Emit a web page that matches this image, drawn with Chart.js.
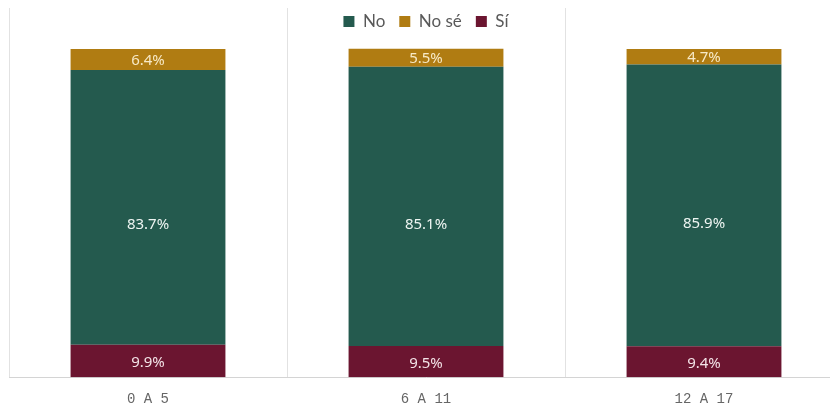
<!DOCTYPE html>
<html>
<head>
<meta charset="utf-8">
<script src="https://cdn.jsdelivr.net/npm/chart.js@4/dist/chart.umd.min.js"></script>
<style>
  html, body { margin: 0; padding: 0; background: #fff; overflow: hidden; }
  #wrap { width: 845px; height: 404px; }
</style>
</head>
<body>
<div id="wrap"><canvas id="chart" width="845" height="404"></canvas></div>
<script>
// Data
const categories = ['0 A 5', '6 A 11', '12 A 17'];
const siValues = [9.9, 9.5, 9.4];
const noValues = [83.7, 85.1, 85.9];
const noSeValues = [6.4, 5.5, 4.7];

// Colors
const colors = { si: '#6b1530', no: '#245a4e', noSe: '#b07c12' };
const labelColors = ['#f3e3e7', '#eef5f2', '#f7e9c6'];
const legendRank = [2, 0, 1]; // legend shows No, No sé, Sí

// Let the legend float over the plot instead of taking its own row
const legendOverlay = {
    id: 'legendOverlay',
    beforeLayout(chart) {
        const legend = chart.legend;
        if (legend && !legend._patched) {
            const fit = legend.fit;
            legend.fit = function () {
                fit.call(this);
                this._realHeight = this.height;
                this.height = 0;
            };
            legend._patched = true;
        }
    },
    afterLayout(chart) {
        const legend = chart.legend;
        if (legend && legend._realHeight) {
            legend.top -= 9;
            legend.height = legend._realHeight;
            legend.bottom = legend.top + legend._realHeight;
        }
    }
};

// Value labels inside each segment (a bit below the middle, like the original)
const segmentLabels = {
    id: 'segmentLabels',
    afterDatasetsDraw(chart) {
        const ctx = chart.ctx;
        ctx.save();
        ctx.font = '15px "Noto Sans", sans-serif';
        ctx.textAlign = 'center';
        ctx.textBaseline = 'middle';
        chart.data.datasets.forEach((ds, i) => {
            const meta = chart.getDatasetMeta(i);
            meta.data.forEach((bar, j) => {
                const { x, y, base } = bar.getProps(['x', 'y', 'base'], true);
                ctx.fillStyle = labelColors[i];
                ctx.fillText(ds.data[j].toFixed(1) + '%', x, y + (base - y) * 0.565);
            });
        });
        ctx.restore();
    }
};

new Chart(document.getElementById('chart'), {
    type: 'bar',
    data: {
        labels: categories,
        datasets: [{
            label: 'Sí',
            data: siValues,
            backgroundColor: colors.si
        }, {
            label: 'No',
            data: noValues,
            backgroundColor: colors.no
        }, {
            label: 'No sé',
            data: noSeValues,
            backgroundColor: colors.noSe
        }]
    },
    options: {
        responsive: false,
        animation: false,
        devicePixelRatio: 1,
        layout: { padding: { top: 8, left: 9, right: 2, bottom: -18 } },
        datasets: {
            bar: { categoryPercentage: 1, barPercentage: 0.557, borderWidth: 0 }
        },
        plugins: {
            legend: {
                position: 'top',
                labels: {
                    color: '#595959',
                    font: { family: 'Lato', size: 17 },
                    boxWidth: 11,
                    boxHeight: 11,
                    padding: 14,
                    sort: (a, b) => legendRank[a.datasetIndex] - legendRank[b.datasetIndex]
                }
            },
            tooltip: { enabled: false }
        },
        scales: {
            x: {
                stacked: true,
                grid: { color: '#e2e2e2', drawTicks: false },
                border: { color: '#d4d4d4' },
                ticks: {
                    color: '#666666',
                    padding: 14,
                    font: { family: 'Liberation Mono', size: 14 }
                }
            },
            y: {
                stacked: true,
                display: false,
                min: 0,
                max: 112.5
            }
        }
    },
    plugins: [legendOverlay, segmentLabels]
});
</script>
</body>
</html>
